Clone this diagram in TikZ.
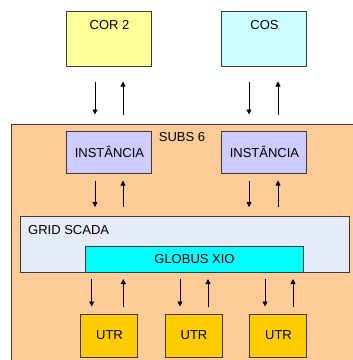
\documentclass[tikz,border=0pt]{standalone}
\usepackage{fontspec}
\setmainfont{Liberation Sans}
\usetikzlibrary{arrows.meta,calc}
\definecolor{cyell}{HTML}{FFFF99}
\definecolor{ccyan}{HTML}{CCFFFF}
\definecolor{corange}{HTML}{FFCC99}
\definecolor{cpurp}{HTML}{CCCCFF}
\definecolor{cgrid}{HTML}{E6ECF7}
\definecolor{cglob}{HTML}{00FFFF}
\definecolor{cutr}{HTML}{FFCC00}
\definecolor{cedge}{HTML}{3A3A3A}
\tikzset{
  box/.style={draw=cedge, line width=1pt, inner sep=0pt, font=\fontsize{13}{15}\selectfont},
  lbl/.style={inner sep=0pt, font=\fontsize{13}{15}\selectfont},
  arr/.style={-{Triangle[length=5pt,width=5pt]}, line width=0.8pt, black},
}
\begin{document}
\begin{tikzpicture}[x=1pt,y=-1pt]
\useasboundingbox (0,0) rectangle (353,360);
% outer SUBS box
\node[box, fill=corange, minimum width=360pt, minimum height=260pt, anchor=north west] (subs) at (11,124) {};
\node[lbl] (subst) at (182,137.5) {SUBS 6};
% top boxes
\node[box, fill=cyell, minimum width=85pt, minimum height=55pt] (cor) at (109.5,38.5) {};
\node[lbl] (cort) at (109.5,25) {COR 2};
\node[box, fill=ccyan, minimum width=85pt, minimum height=55pt] (cos) at (264.5,38.5) {};
\node[lbl] (cost) at (264.5,25) {COS};
% instancias
\node[box, fill=cpurp, minimum width=85pt, minimum height=42pt] (ins1) at (109.5,152) {INSTÂNCIA};
\node[box, fill=cpurp, minimum width=85pt, minimum height=42pt] (ins2) at (264.5,152) {INSTÂNCIA};
% grid scada
\node[box, fill=cgrid, minimum width=328.5pt, minimum height=56pt, anchor=north west] (grid) at (20.5,216) {};
\node[lbl, anchor=west] (gridt) at (28,230) {GRID SCADA};
\node[box, fill=cglob, minimum width=218pt, minimum height=26pt, anchor=north west] (glob) at (85,246) {GLOBUS XIO};
% UTRs
\node[box, fill=cutr, minimum width=57pt, minimum height=43pt] (u1) at (109.5,335.5) {UTR};
\node[box, fill=cutr, minimum width=57pt, minimum height=43pt] (u2) at (194,335.5) {UTR};
\node[box, fill=cutr, minimum width=57pt, minimum height=43pt] (u3) at (278.5,335.5) {UTR};
% arrows top
\draw[arr] ($(cor.south)+(-14.5,15)$) -- ($(ins1.north)+(-14.5,-16)$);
\draw[arr] ($(ins1.north)+(13.5,-16)$) -- ($(cor.south)+(13.5,15)$);
\draw[arr] ($(cos.south)+(-15.5,15)$) -- ($(ins2.north)+(-15.5,-16)$);
\draw[arr] ($(ins2.north)+(13.5,-16)$) -- ($(cos.south)+(13.5,15)$);
% arrows middle
\draw[arr] ($(ins1.south)+(-14.5,7)$) -- ($(grid.north west)+(74.5,-9)$);
\draw[arr] ($(grid.north west)+(102.5,-9)$) -- ($(ins1.south)+(13.5,7)$);
\draw[arr] ($(ins2.south)+(-15.5,7)$) -- ($(grid.north west)+(228.5,-9)$);
\draw[arr] ($(grid.north west)+(257.5,-9)$) -- ($(ins2.south)+(13.5,7)$);
% arrows bottom
\draw[arr] ($(glob.south west)+(6.7,6)$) -- ($(u1.north)+(-17.8,-7)$);
\draw[arr] ($(u1.north)+(13.8,-7)$) -- ($(glob.south west)+(38.3,6)$);
\draw[arr] ($(glob.south west)+(95,6)$) -- ($(u2.north)+(-14,-7)$);
\draw[arr] ($(u2.north)+(14,-7)$) -- ($(glob.south west)+(123,6)$);
\draw[arr] ($(glob.south west)+(180,6)$) -- ($(u3.north)+(-13.5,-7)$);
\draw[arr] ($(u3.north)+(14.5,-7)$) -- ($(glob.south west)+(208,6)$);
\end{tikzpicture}
\end{document}
